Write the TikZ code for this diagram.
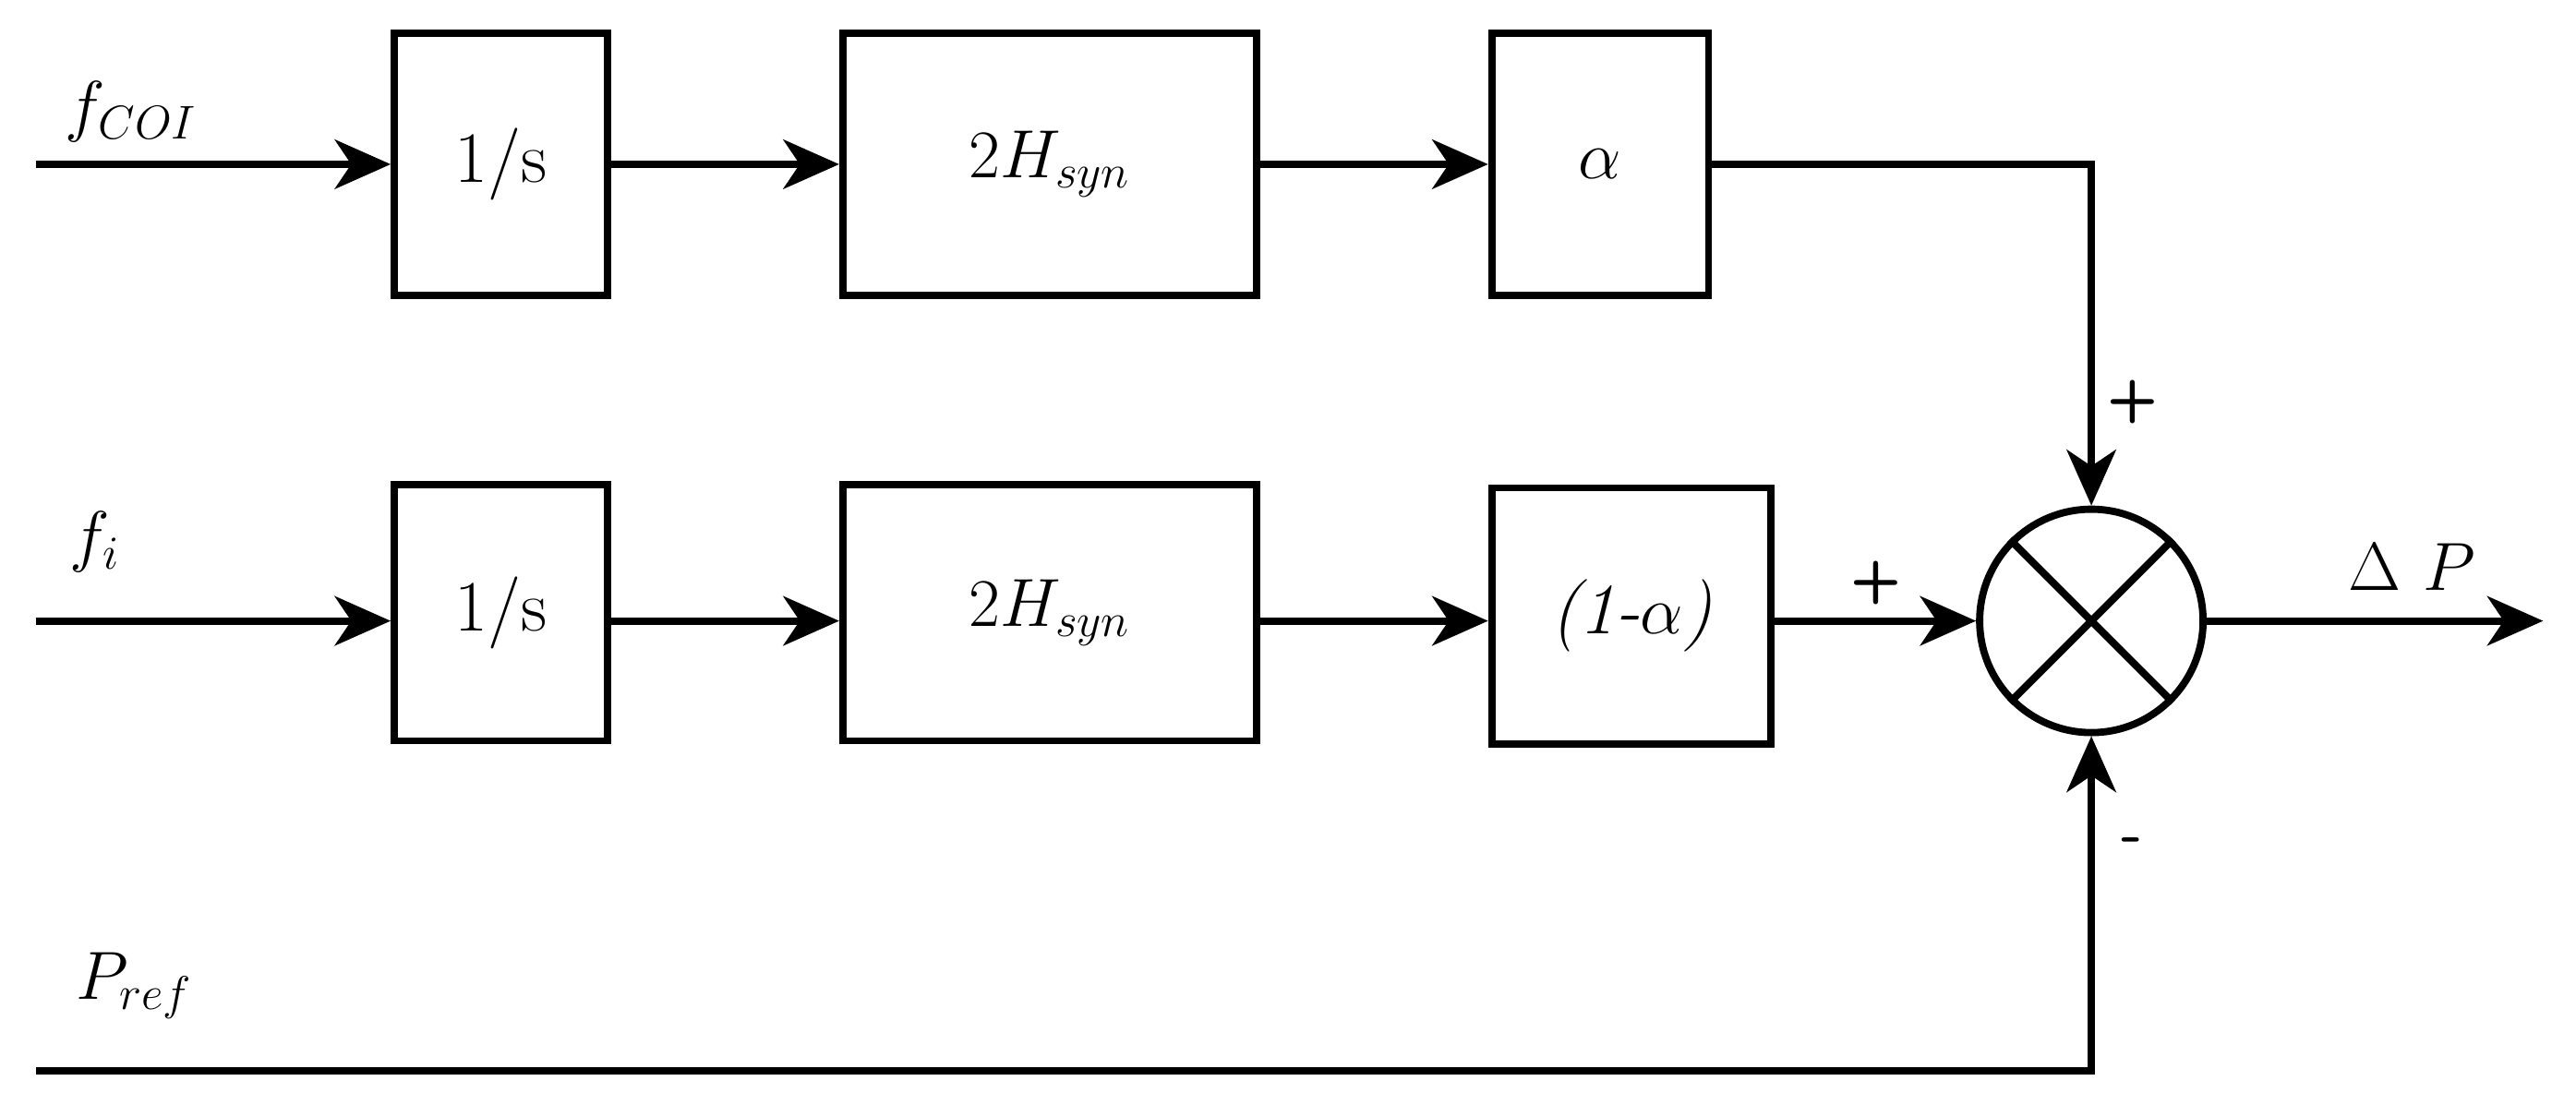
\documentclass[tikz,border=0pt]{standalone}
\usetikzlibrary{arrows.meta}
\begin{document}
\begin{tikzpicture}[x=0.5pt,y=-0.5pt,
  line width=2.2pt,
  blk/.style={draw,line width=2.2pt,minimum height=80pt,inner sep=0pt,font=\fontsize{22}{26}\selectfont},
  arr/.style={-{Stealth[length=17pt,width=15pt,inset=5pt]}},
  lbl/.style={font=\fontsize{22}{26}\selectfont},
  sgn/.style={font=\sffamily\bfseries\fontsize{18}{20}\selectfont}]
\useasboundingbox (0,0) rectangle (1568,680);
% top row
\node[blk,minimum width=65pt] (a1) at (305,100) {1/s};
\node[blk,minimum width=126pt] (a2) at (639,100) {$2H_{syn}$};
\node[blk,minimum width=66pt] (a3) at (974,100) {$\alpha$};
% middle row
\node[blk,minimum width=65pt,minimum height=78pt] (b1) at (305,373) {1/s};
\node[blk,minimum width=126pt,minimum height=78pt] (b2) at (639,373) {$2H_{syn}$};
\node[blk,minimum width=85pt,minimum height=78pt] (b3) at (993,375) {\textit{(1-}$\alpha$\textit{)}};
% sum
\node[draw,circle,line width=2.2pt,minimum size=68pt,inner sep=0pt] (s) at (1273,378) {};
\draw (s.north west) -- (s.south east) (s.north east) -- (s.south west);
% inputs
\coordinate (i1) at (22,100);
\coordinate (i2) at (22,378);
\coordinate (i3) at (22,652);
\coordinate (c3) at (1273,652);
\coordinate (c1) at (1273,100);
\coordinate (o) at (1548,378);
\node[lbl] (l1) at (80,68) {$f_{COI}$};
\node[lbl] (l2) at (58,330) {$f_{i}$};
\node[lbl] (l3) at (82,600) {$P_{ref}$};
\node[lbl] (l4) at (1468,345) {$\Delta\ P$};
\draw[arr] (i1) -- (a1);
\draw[arr] (a1) -- (a2);
\draw[arr] (a2) -- (a3);
\draw[arr] (i2) -- (b1.west |- i2);
\draw[arr] (b1.east |- i2) -- (b2.west |- i2);
\draw[arr] (b2.east |- i2) -- (b3.west |- i2);
\draw[arr] (b3.east |- i2) -- (s);
\draw[arr] (a3) -- (c1) -- (s);
\draw[arr] (i3) -- (c3) -- (s);
\draw[arr] (s) -- (o);
\node[sgn] (p1) at (1298,245) {+};
\node[sgn] (p2) at (1142,355) {+};
\node[sgn] (p3) at (1298,515) {-};
\end{tikzpicture}
\end{document}
